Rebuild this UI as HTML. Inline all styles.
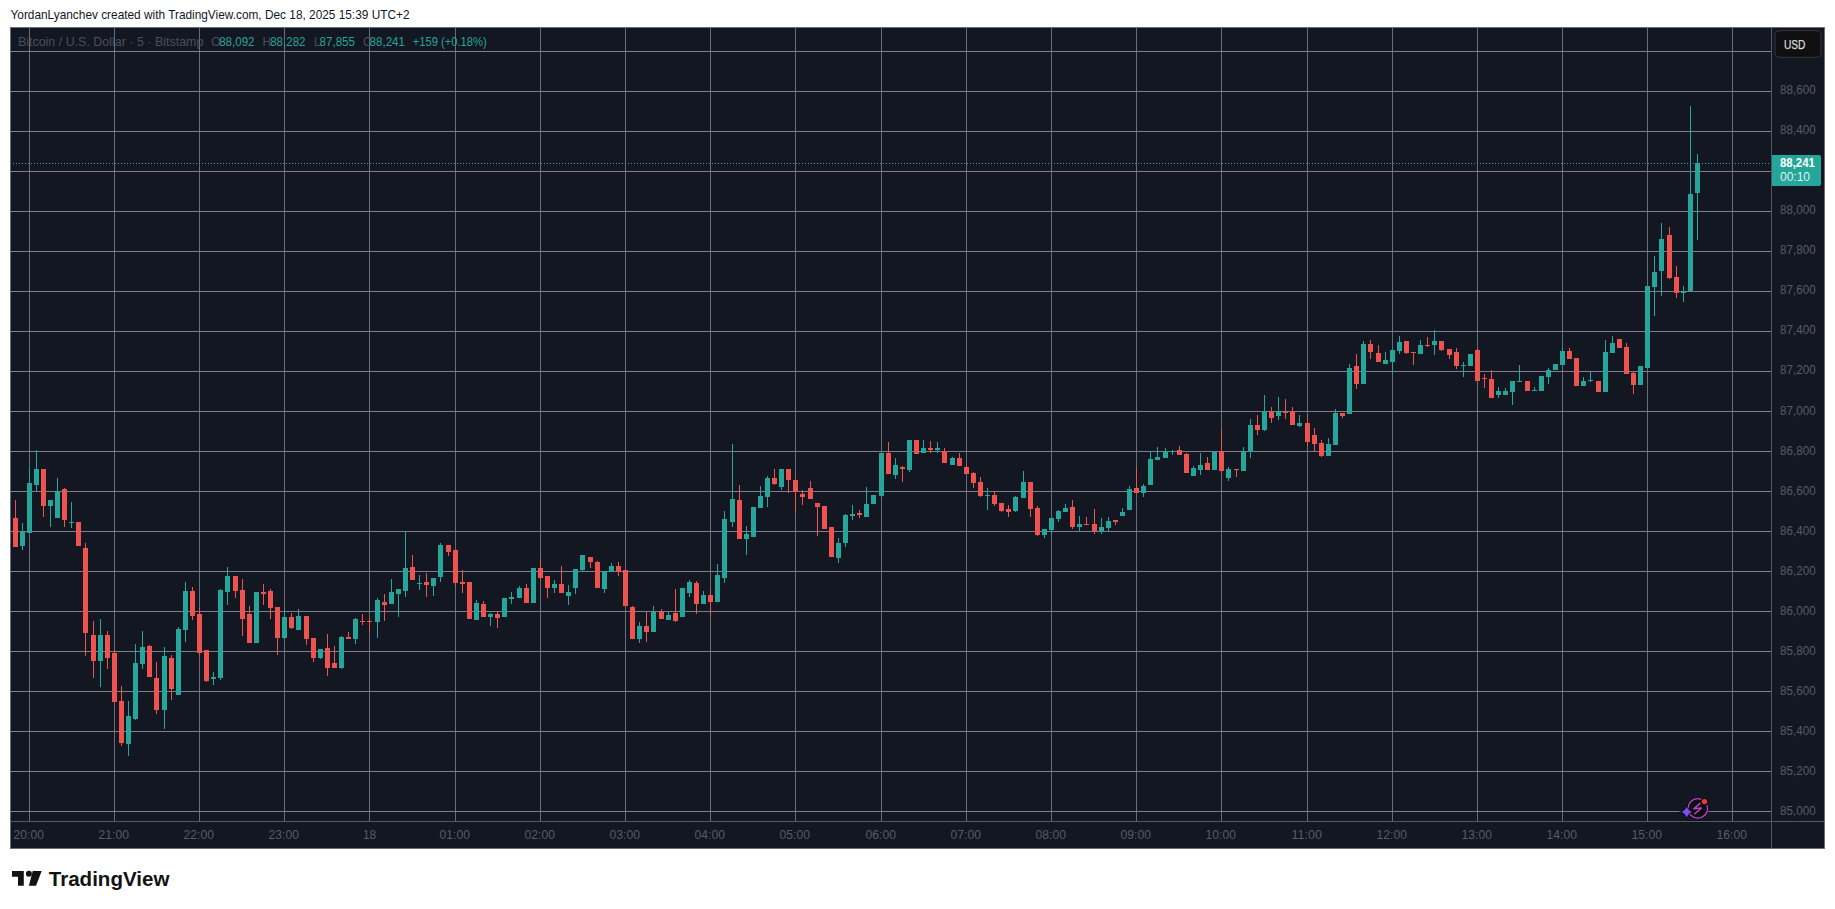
<!DOCTYPE html>
<html lang="en"><head><meta charset="utf-8"><title>BTCUSD chart</title>
<style>html,body{margin:0;padding:0;background:#fff}body{width:1835px;height:909px;overflow:hidden}svg{display:block}text{font-family:"Liberation Sans",sans-serif}</style></head><body>
<svg width="1835" height="909" viewBox="0 0 1835 909">
<rect width="1835" height="909" fill="#fff"/>
<text x="10.5" y="19.4" font-size="13" fill="#131722" textLength="399" lengthAdjust="spacingAndGlyphs">YordanLyanchev created with TradingView.com, Dec 18, 2025 15:39 UTC+2</text>
<rect x="10" y="27" width="1815" height="822" fill="#131722"/>
<rect x="10.5" y="27.5" width="1814" height="821" fill="none" stroke="#6a6d7a" stroke-width="1"/>
<g shape-rendering="crispEdges" fill="#7d808e">
<rect x="29" y="28" width="1" height="793" fill="#696c7b"/>
<rect x="114" y="28" width="1" height="793" fill="#696c7b"/>
<rect x="199" y="28" width="1" height="793" fill="#696c7b"/>
<rect x="284" y="28" width="1" height="793" fill="#696c7b"/>
<rect x="369" y="28" width="1" height="793" fill="#696c7b"/>
<rect x="455" y="28" width="1" height="793" fill="#696c7b"/>
<rect x="540" y="28" width="1" height="793" fill="#696c7b"/>
<rect x="625" y="28" width="1" height="793" fill="#696c7b"/>
<rect x="710" y="28" width="1" height="793" fill="#696c7b"/>
<rect x="795" y="28" width="1" height="793" fill="#696c7b"/>
<rect x="881" y="28" width="1" height="793" fill="#696c7b"/>
<rect x="966" y="28" width="1" height="793" fill="#696c7b"/>
<rect x="1051" y="28" width="1" height="793" fill="#696c7b"/>
<rect x="1136" y="28" width="1" height="793" fill="#696c7b"/>
<rect x="1221" y="28" width="1" height="793" fill="#696c7b"/>
<rect x="1307" y="28" width="1" height="793" fill="#696c7b"/>
<rect x="1392" y="28" width="1" height="793" fill="#696c7b"/>
<rect x="1477" y="28" width="1" height="793" fill="#696c7b"/>
<rect x="1562" y="28" width="1" height="793" fill="#696c7b"/>
<rect x="1647" y="28" width="1" height="793" fill="#696c7b"/>
<rect x="1732" y="28" width="1" height="793" fill="#696c7b"/>
<rect x="10" y="51" width="1761" height="1"/>
<rect x="10" y="91" width="1761" height="1"/>
<rect x="10" y="131" width="1761" height="1"/>
<rect x="10" y="171" width="1761" height="1"/>
<rect x="10" y="211" width="1761" height="1"/>
<rect x="10" y="251" width="1761" height="1"/>
<rect x="10" y="291" width="1761" height="1"/>
<rect x="10" y="331" width="1761" height="1"/>
<rect x="10" y="371" width="1761" height="1"/>
<rect x="10" y="411" width="1761" height="1"/>
<rect x="10" y="451" width="1761" height="1"/>
<rect x="10" y="491" width="1761" height="1"/>
<rect x="10" y="531" width="1761" height="1"/>
<rect x="10" y="571" width="1761" height="1"/>
<rect x="10" y="611" width="1761" height="1"/>
<rect x="10" y="651" width="1761" height="1"/>
<rect x="10" y="691" width="1761" height="1"/>
<rect x="10" y="731" width="1761" height="1"/>
<rect x="10" y="771" width="1761" height="1"/>
<rect x="10" y="811" width="1761" height="1"/>
<rect x="1771" y="28" width="1" height="820" fill="#535664"/>
<rect x="11" y="821" width="1813" height="1" fill="#535664"/>
</g>
<g font-size="12">
<text x="17.9" y="46" fill="#4b4e5b" textLength="185.5" lengthAdjust="spacingAndGlyphs">Bitcoin / U.S. Dollar · 5 · Bitstamp</text>
<text x="211.3" y="46" fill="#4b4e5b">O</text>
<text x="219.2" y="46" fill="#26a69a" textLength="35.3" lengthAdjust="spacingAndGlyphs">88,092</text>
<text x="262.6" y="46" fill="#4b4e5b">H</text>
<text x="270.2" y="46" fill="#26a69a" textLength="35.3" lengthAdjust="spacingAndGlyphs">88,282</text>
<text x="314" y="46" fill="#4b4e5b">L</text>
<text x="319.6" y="46" fill="#26a69a" textLength="35.3" lengthAdjust="spacingAndGlyphs">87,855</text>
<text x="363" y="46" fill="#4b4e5b">C</text>
<text x="369.6" y="46" fill="#26a69a" textLength="35.3" lengthAdjust="spacingAndGlyphs">88,241</text>
<text x="412.7" y="46" fill="#26a69a" textLength="74" lengthAdjust="spacingAndGlyphs">+159 (+0.18%)</text>
</g>
<g shape-rendering="crispEdges" fill="#26a69a">
<rect x="10" y="163" width="1" height="1"/>
<rect x="13" y="163" width="1" height="1"/>
<rect x="16" y="163" width="1" height="1"/>
<rect x="19" y="163" width="1" height="1"/>
<rect x="22" y="163" width="1" height="1"/>
<rect x="25" y="163" width="1" height="1"/>
<rect x="28" y="163" width="1" height="1"/>
<rect x="31" y="163" width="1" height="1"/>
<rect x="34" y="163" width="1" height="1"/>
<rect x="37" y="163" width="1" height="1"/>
<rect x="40" y="163" width="1" height="1"/>
<rect x="43" y="163" width="1" height="1"/>
<rect x="46" y="163" width="1" height="1"/>
<rect x="49" y="163" width="1" height="1"/>
<rect x="52" y="163" width="1" height="1"/>
<rect x="55" y="163" width="1" height="1"/>
<rect x="58" y="163" width="1" height="1"/>
<rect x="61" y="163" width="1" height="1"/>
<rect x="64" y="163" width="1" height="1"/>
<rect x="67" y="163" width="1" height="1"/>
<rect x="70" y="163" width="1" height="1"/>
<rect x="73" y="163" width="1" height="1"/>
<rect x="76" y="163" width="1" height="1"/>
<rect x="79" y="163" width="1" height="1"/>
<rect x="82" y="163" width="1" height="1"/>
<rect x="85" y="163" width="1" height="1"/>
<rect x="88" y="163" width="1" height="1"/>
<rect x="91" y="163" width="1" height="1"/>
<rect x="94" y="163" width="1" height="1"/>
<rect x="97" y="163" width="1" height="1"/>
<rect x="100" y="163" width="1" height="1"/>
<rect x="103" y="163" width="1" height="1"/>
<rect x="106" y="163" width="1" height="1"/>
<rect x="109" y="163" width="1" height="1"/>
<rect x="112" y="163" width="1" height="1"/>
<rect x="115" y="163" width="1" height="1"/>
<rect x="118" y="163" width="1" height="1"/>
<rect x="121" y="163" width="1" height="1"/>
<rect x="124" y="163" width="1" height="1"/>
<rect x="127" y="163" width="1" height="1"/>
<rect x="130" y="163" width="1" height="1"/>
<rect x="133" y="163" width="1" height="1"/>
<rect x="136" y="163" width="1" height="1"/>
<rect x="139" y="163" width="1" height="1"/>
<rect x="142" y="163" width="1" height="1"/>
<rect x="145" y="163" width="1" height="1"/>
<rect x="148" y="163" width="1" height="1"/>
<rect x="151" y="163" width="1" height="1"/>
<rect x="154" y="163" width="1" height="1"/>
<rect x="157" y="163" width="1" height="1"/>
<rect x="160" y="163" width="1" height="1"/>
<rect x="163" y="163" width="1" height="1"/>
<rect x="166" y="163" width="1" height="1"/>
<rect x="169" y="163" width="1" height="1"/>
<rect x="172" y="163" width="1" height="1"/>
<rect x="175" y="163" width="1" height="1"/>
<rect x="178" y="163" width="1" height="1"/>
<rect x="181" y="163" width="1" height="1"/>
<rect x="184" y="163" width="1" height="1"/>
<rect x="187" y="163" width="1" height="1"/>
<rect x="190" y="163" width="1" height="1"/>
<rect x="193" y="163" width="1" height="1"/>
<rect x="196" y="163" width="1" height="1"/>
<rect x="199" y="163" width="1" height="1"/>
<rect x="202" y="163" width="1" height="1"/>
<rect x="205" y="163" width="1" height="1"/>
<rect x="208" y="163" width="1" height="1"/>
<rect x="211" y="163" width="1" height="1"/>
<rect x="214" y="163" width="1" height="1"/>
<rect x="217" y="163" width="1" height="1"/>
<rect x="220" y="163" width="1" height="1"/>
<rect x="223" y="163" width="1" height="1"/>
<rect x="226" y="163" width="1" height="1"/>
<rect x="229" y="163" width="1" height="1"/>
<rect x="232" y="163" width="1" height="1"/>
<rect x="235" y="163" width="1" height="1"/>
<rect x="238" y="163" width="1" height="1"/>
<rect x="241" y="163" width="1" height="1"/>
<rect x="244" y="163" width="1" height="1"/>
<rect x="247" y="163" width="1" height="1"/>
<rect x="250" y="163" width="1" height="1"/>
<rect x="253" y="163" width="1" height="1"/>
<rect x="256" y="163" width="1" height="1"/>
<rect x="259" y="163" width="1" height="1"/>
<rect x="262" y="163" width="1" height="1"/>
<rect x="265" y="163" width="1" height="1"/>
<rect x="268" y="163" width="1" height="1"/>
<rect x="271" y="163" width="1" height="1"/>
<rect x="274" y="163" width="1" height="1"/>
<rect x="277" y="163" width="1" height="1"/>
<rect x="280" y="163" width="1" height="1"/>
<rect x="283" y="163" width="1" height="1"/>
<rect x="286" y="163" width="1" height="1"/>
<rect x="289" y="163" width="1" height="1"/>
<rect x="292" y="163" width="1" height="1"/>
<rect x="295" y="163" width="1" height="1"/>
<rect x="298" y="163" width="1" height="1"/>
<rect x="301" y="163" width="1" height="1"/>
<rect x="304" y="163" width="1" height="1"/>
<rect x="307" y="163" width="1" height="1"/>
<rect x="310" y="163" width="1" height="1"/>
<rect x="313" y="163" width="1" height="1"/>
<rect x="316" y="163" width="1" height="1"/>
<rect x="319" y="163" width="1" height="1"/>
<rect x="322" y="163" width="1" height="1"/>
<rect x="325" y="163" width="1" height="1"/>
<rect x="328" y="163" width="1" height="1"/>
<rect x="331" y="163" width="1" height="1"/>
<rect x="334" y="163" width="1" height="1"/>
<rect x="337" y="163" width="1" height="1"/>
<rect x="340" y="163" width="1" height="1"/>
<rect x="343" y="163" width="1" height="1"/>
<rect x="346" y="163" width="1" height="1"/>
<rect x="349" y="163" width="1" height="1"/>
<rect x="352" y="163" width="1" height="1"/>
<rect x="355" y="163" width="1" height="1"/>
<rect x="358" y="163" width="1" height="1"/>
<rect x="361" y="163" width="1" height="1"/>
<rect x="364" y="163" width="1" height="1"/>
<rect x="367" y="163" width="1" height="1"/>
<rect x="370" y="163" width="1" height="1"/>
<rect x="373" y="163" width="1" height="1"/>
<rect x="376" y="163" width="1" height="1"/>
<rect x="379" y="163" width="1" height="1"/>
<rect x="382" y="163" width="1" height="1"/>
<rect x="385" y="163" width="1" height="1"/>
<rect x="388" y="163" width="1" height="1"/>
<rect x="391" y="163" width="1" height="1"/>
<rect x="394" y="163" width="1" height="1"/>
<rect x="397" y="163" width="1" height="1"/>
<rect x="400" y="163" width="1" height="1"/>
<rect x="403" y="163" width="1" height="1"/>
<rect x="406" y="163" width="1" height="1"/>
<rect x="409" y="163" width="1" height="1"/>
<rect x="412" y="163" width="1" height="1"/>
<rect x="415" y="163" width="1" height="1"/>
<rect x="418" y="163" width="1" height="1"/>
<rect x="421" y="163" width="1" height="1"/>
<rect x="424" y="163" width="1" height="1"/>
<rect x="427" y="163" width="1" height="1"/>
<rect x="430" y="163" width="1" height="1"/>
<rect x="433" y="163" width="1" height="1"/>
<rect x="436" y="163" width="1" height="1"/>
<rect x="439" y="163" width="1" height="1"/>
<rect x="442" y="163" width="1" height="1"/>
<rect x="445" y="163" width="1" height="1"/>
<rect x="448" y="163" width="1" height="1"/>
<rect x="451" y="163" width="1" height="1"/>
<rect x="454" y="163" width="1" height="1"/>
<rect x="457" y="163" width="1" height="1"/>
<rect x="460" y="163" width="1" height="1"/>
<rect x="463" y="163" width="1" height="1"/>
<rect x="466" y="163" width="1" height="1"/>
<rect x="469" y="163" width="1" height="1"/>
<rect x="472" y="163" width="1" height="1"/>
<rect x="475" y="163" width="1" height="1"/>
<rect x="478" y="163" width="1" height="1"/>
<rect x="481" y="163" width="1" height="1"/>
<rect x="484" y="163" width="1" height="1"/>
<rect x="487" y="163" width="1" height="1"/>
<rect x="490" y="163" width="1" height="1"/>
<rect x="493" y="163" width="1" height="1"/>
<rect x="496" y="163" width="1" height="1"/>
<rect x="499" y="163" width="1" height="1"/>
<rect x="502" y="163" width="1" height="1"/>
<rect x="505" y="163" width="1" height="1"/>
<rect x="508" y="163" width="1" height="1"/>
<rect x="511" y="163" width="1" height="1"/>
<rect x="514" y="163" width="1" height="1"/>
<rect x="517" y="163" width="1" height="1"/>
<rect x="520" y="163" width="1" height="1"/>
<rect x="523" y="163" width="1" height="1"/>
<rect x="526" y="163" width="1" height="1"/>
<rect x="529" y="163" width="1" height="1"/>
<rect x="532" y="163" width="1" height="1"/>
<rect x="535" y="163" width="1" height="1"/>
<rect x="538" y="163" width="1" height="1"/>
<rect x="541" y="163" width="1" height="1"/>
<rect x="544" y="163" width="1" height="1"/>
<rect x="547" y="163" width="1" height="1"/>
<rect x="550" y="163" width="1" height="1"/>
<rect x="553" y="163" width="1" height="1"/>
<rect x="556" y="163" width="1" height="1"/>
<rect x="559" y="163" width="1" height="1"/>
<rect x="562" y="163" width="1" height="1"/>
<rect x="565" y="163" width="1" height="1"/>
<rect x="568" y="163" width="1" height="1"/>
<rect x="571" y="163" width="1" height="1"/>
<rect x="574" y="163" width="1" height="1"/>
<rect x="577" y="163" width="1" height="1"/>
<rect x="580" y="163" width="1" height="1"/>
<rect x="583" y="163" width="1" height="1"/>
<rect x="586" y="163" width="1" height="1"/>
<rect x="589" y="163" width="1" height="1"/>
<rect x="592" y="163" width="1" height="1"/>
<rect x="595" y="163" width="1" height="1"/>
<rect x="598" y="163" width="1" height="1"/>
<rect x="601" y="163" width="1" height="1"/>
<rect x="604" y="163" width="1" height="1"/>
<rect x="607" y="163" width="1" height="1"/>
<rect x="610" y="163" width="1" height="1"/>
<rect x="613" y="163" width="1" height="1"/>
<rect x="616" y="163" width="1" height="1"/>
<rect x="619" y="163" width="1" height="1"/>
<rect x="622" y="163" width="1" height="1"/>
<rect x="625" y="163" width="1" height="1"/>
<rect x="628" y="163" width="1" height="1"/>
<rect x="631" y="163" width="1" height="1"/>
<rect x="634" y="163" width="1" height="1"/>
<rect x="637" y="163" width="1" height="1"/>
<rect x="640" y="163" width="1" height="1"/>
<rect x="643" y="163" width="1" height="1"/>
<rect x="646" y="163" width="1" height="1"/>
<rect x="649" y="163" width="1" height="1"/>
<rect x="652" y="163" width="1" height="1"/>
<rect x="655" y="163" width="1" height="1"/>
<rect x="658" y="163" width="1" height="1"/>
<rect x="661" y="163" width="1" height="1"/>
<rect x="664" y="163" width="1" height="1"/>
<rect x="667" y="163" width="1" height="1"/>
<rect x="670" y="163" width="1" height="1"/>
<rect x="673" y="163" width="1" height="1"/>
<rect x="676" y="163" width="1" height="1"/>
<rect x="679" y="163" width="1" height="1"/>
<rect x="682" y="163" width="1" height="1"/>
<rect x="685" y="163" width="1" height="1"/>
<rect x="688" y="163" width="1" height="1"/>
<rect x="691" y="163" width="1" height="1"/>
<rect x="694" y="163" width="1" height="1"/>
<rect x="697" y="163" width="1" height="1"/>
<rect x="700" y="163" width="1" height="1"/>
<rect x="703" y="163" width="1" height="1"/>
<rect x="706" y="163" width="1" height="1"/>
<rect x="709" y="163" width="1" height="1"/>
<rect x="712" y="163" width="1" height="1"/>
<rect x="715" y="163" width="1" height="1"/>
<rect x="718" y="163" width="1" height="1"/>
<rect x="721" y="163" width="1" height="1"/>
<rect x="724" y="163" width="1" height="1"/>
<rect x="727" y="163" width="1" height="1"/>
<rect x="730" y="163" width="1" height="1"/>
<rect x="733" y="163" width="1" height="1"/>
<rect x="736" y="163" width="1" height="1"/>
<rect x="739" y="163" width="1" height="1"/>
<rect x="742" y="163" width="1" height="1"/>
<rect x="745" y="163" width="1" height="1"/>
<rect x="748" y="163" width="1" height="1"/>
<rect x="751" y="163" width="1" height="1"/>
<rect x="754" y="163" width="1" height="1"/>
<rect x="757" y="163" width="1" height="1"/>
<rect x="760" y="163" width="1" height="1"/>
<rect x="763" y="163" width="1" height="1"/>
<rect x="766" y="163" width="1" height="1"/>
<rect x="769" y="163" width="1" height="1"/>
<rect x="772" y="163" width="1" height="1"/>
<rect x="775" y="163" width="1" height="1"/>
<rect x="778" y="163" width="1" height="1"/>
<rect x="781" y="163" width="1" height="1"/>
<rect x="784" y="163" width="1" height="1"/>
<rect x="787" y="163" width="1" height="1"/>
<rect x="790" y="163" width="1" height="1"/>
<rect x="793" y="163" width="1" height="1"/>
<rect x="796" y="163" width="1" height="1"/>
<rect x="799" y="163" width="1" height="1"/>
<rect x="802" y="163" width="1" height="1"/>
<rect x="805" y="163" width="1" height="1"/>
<rect x="808" y="163" width="1" height="1"/>
<rect x="811" y="163" width="1" height="1"/>
<rect x="814" y="163" width="1" height="1"/>
<rect x="817" y="163" width="1" height="1"/>
<rect x="820" y="163" width="1" height="1"/>
<rect x="823" y="163" width="1" height="1"/>
<rect x="826" y="163" width="1" height="1"/>
<rect x="829" y="163" width="1" height="1"/>
<rect x="832" y="163" width="1" height="1"/>
<rect x="835" y="163" width="1" height="1"/>
<rect x="838" y="163" width="1" height="1"/>
<rect x="841" y="163" width="1" height="1"/>
<rect x="844" y="163" width="1" height="1"/>
<rect x="847" y="163" width="1" height="1"/>
<rect x="850" y="163" width="1" height="1"/>
<rect x="853" y="163" width="1" height="1"/>
<rect x="856" y="163" width="1" height="1"/>
<rect x="859" y="163" width="1" height="1"/>
<rect x="862" y="163" width="1" height="1"/>
<rect x="865" y="163" width="1" height="1"/>
<rect x="868" y="163" width="1" height="1"/>
<rect x="871" y="163" width="1" height="1"/>
<rect x="874" y="163" width="1" height="1"/>
<rect x="877" y="163" width="1" height="1"/>
<rect x="880" y="163" width="1" height="1"/>
<rect x="883" y="163" width="1" height="1"/>
<rect x="886" y="163" width="1" height="1"/>
<rect x="889" y="163" width="1" height="1"/>
<rect x="892" y="163" width="1" height="1"/>
<rect x="895" y="163" width="1" height="1"/>
<rect x="898" y="163" width="1" height="1"/>
<rect x="901" y="163" width="1" height="1"/>
<rect x="904" y="163" width="1" height="1"/>
<rect x="907" y="163" width="1" height="1"/>
<rect x="910" y="163" width="1" height="1"/>
<rect x="913" y="163" width="1" height="1"/>
<rect x="916" y="163" width="1" height="1"/>
<rect x="919" y="163" width="1" height="1"/>
<rect x="922" y="163" width="1" height="1"/>
<rect x="925" y="163" width="1" height="1"/>
<rect x="928" y="163" width="1" height="1"/>
<rect x="931" y="163" width="1" height="1"/>
<rect x="934" y="163" width="1" height="1"/>
<rect x="937" y="163" width="1" height="1"/>
<rect x="940" y="163" width="1" height="1"/>
<rect x="943" y="163" width="1" height="1"/>
<rect x="946" y="163" width="1" height="1"/>
<rect x="949" y="163" width="1" height="1"/>
<rect x="952" y="163" width="1" height="1"/>
<rect x="955" y="163" width="1" height="1"/>
<rect x="958" y="163" width="1" height="1"/>
<rect x="961" y="163" width="1" height="1"/>
<rect x="964" y="163" width="1" height="1"/>
<rect x="967" y="163" width="1" height="1"/>
<rect x="970" y="163" width="1" height="1"/>
<rect x="973" y="163" width="1" height="1"/>
<rect x="976" y="163" width="1" height="1"/>
<rect x="979" y="163" width="1" height="1"/>
<rect x="982" y="163" width="1" height="1"/>
<rect x="985" y="163" width="1" height="1"/>
<rect x="988" y="163" width="1" height="1"/>
<rect x="991" y="163" width="1" height="1"/>
<rect x="994" y="163" width="1" height="1"/>
<rect x="997" y="163" width="1" height="1"/>
<rect x="1000" y="163" width="1" height="1"/>
<rect x="1003" y="163" width="1" height="1"/>
<rect x="1006" y="163" width="1" height="1"/>
<rect x="1009" y="163" width="1" height="1"/>
<rect x="1012" y="163" width="1" height="1"/>
<rect x="1015" y="163" width="1" height="1"/>
<rect x="1018" y="163" width="1" height="1"/>
<rect x="1021" y="163" width="1" height="1"/>
<rect x="1024" y="163" width="1" height="1"/>
<rect x="1027" y="163" width="1" height="1"/>
<rect x="1030" y="163" width="1" height="1"/>
<rect x="1033" y="163" width="1" height="1"/>
<rect x="1036" y="163" width="1" height="1"/>
<rect x="1039" y="163" width="1" height="1"/>
<rect x="1042" y="163" width="1" height="1"/>
<rect x="1045" y="163" width="1" height="1"/>
<rect x="1048" y="163" width="1" height="1"/>
<rect x="1051" y="163" width="1" height="1"/>
<rect x="1054" y="163" width="1" height="1"/>
<rect x="1057" y="163" width="1" height="1"/>
<rect x="1060" y="163" width="1" height="1"/>
<rect x="1063" y="163" width="1" height="1"/>
<rect x="1066" y="163" width="1" height="1"/>
<rect x="1069" y="163" width="1" height="1"/>
<rect x="1072" y="163" width="1" height="1"/>
<rect x="1075" y="163" width="1" height="1"/>
<rect x="1078" y="163" width="1" height="1"/>
<rect x="1081" y="163" width="1" height="1"/>
<rect x="1084" y="163" width="1" height="1"/>
<rect x="1087" y="163" width="1" height="1"/>
<rect x="1090" y="163" width="1" height="1"/>
<rect x="1093" y="163" width="1" height="1"/>
<rect x="1096" y="163" width="1" height="1"/>
<rect x="1099" y="163" width="1" height="1"/>
<rect x="1102" y="163" width="1" height="1"/>
<rect x="1105" y="163" width="1" height="1"/>
<rect x="1108" y="163" width="1" height="1"/>
<rect x="1111" y="163" width="1" height="1"/>
<rect x="1114" y="163" width="1" height="1"/>
<rect x="1117" y="163" width="1" height="1"/>
<rect x="1120" y="163" width="1" height="1"/>
<rect x="1123" y="163" width="1" height="1"/>
<rect x="1126" y="163" width="1" height="1"/>
<rect x="1129" y="163" width="1" height="1"/>
<rect x="1132" y="163" width="1" height="1"/>
<rect x="1135" y="163" width="1" height="1"/>
<rect x="1138" y="163" width="1" height="1"/>
<rect x="1141" y="163" width="1" height="1"/>
<rect x="1144" y="163" width="1" height="1"/>
<rect x="1147" y="163" width="1" height="1"/>
<rect x="1150" y="163" width="1" height="1"/>
<rect x="1153" y="163" width="1" height="1"/>
<rect x="1156" y="163" width="1" height="1"/>
<rect x="1159" y="163" width="1" height="1"/>
<rect x="1162" y="163" width="1" height="1"/>
<rect x="1165" y="163" width="1" height="1"/>
<rect x="1168" y="163" width="1" height="1"/>
<rect x="1171" y="163" width="1" height="1"/>
<rect x="1174" y="163" width="1" height="1"/>
<rect x="1177" y="163" width="1" height="1"/>
<rect x="1180" y="163" width="1" height="1"/>
<rect x="1183" y="163" width="1" height="1"/>
<rect x="1186" y="163" width="1" height="1"/>
<rect x="1189" y="163" width="1" height="1"/>
<rect x="1192" y="163" width="1" height="1"/>
<rect x="1195" y="163" width="1" height="1"/>
<rect x="1198" y="163" width="1" height="1"/>
<rect x="1201" y="163" width="1" height="1"/>
<rect x="1204" y="163" width="1" height="1"/>
<rect x="1207" y="163" width="1" height="1"/>
<rect x="1210" y="163" width="1" height="1"/>
<rect x="1213" y="163" width="1" height="1"/>
<rect x="1216" y="163" width="1" height="1"/>
<rect x="1219" y="163" width="1" height="1"/>
<rect x="1222" y="163" width="1" height="1"/>
<rect x="1225" y="163" width="1" height="1"/>
<rect x="1228" y="163" width="1" height="1"/>
<rect x="1231" y="163" width="1" height="1"/>
<rect x="1234" y="163" width="1" height="1"/>
<rect x="1237" y="163" width="1" height="1"/>
<rect x="1240" y="163" width="1" height="1"/>
<rect x="1243" y="163" width="1" height="1"/>
<rect x="1246" y="163" width="1" height="1"/>
<rect x="1249" y="163" width="1" height="1"/>
<rect x="1252" y="163" width="1" height="1"/>
<rect x="1255" y="163" width="1" height="1"/>
<rect x="1258" y="163" width="1" height="1"/>
<rect x="1261" y="163" width="1" height="1"/>
<rect x="1264" y="163" width="1" height="1"/>
<rect x="1267" y="163" width="1" height="1"/>
<rect x="1270" y="163" width="1" height="1"/>
<rect x="1273" y="163" width="1" height="1"/>
<rect x="1276" y="163" width="1" height="1"/>
<rect x="1279" y="163" width="1" height="1"/>
<rect x="1282" y="163" width="1" height="1"/>
<rect x="1285" y="163" width="1" height="1"/>
<rect x="1288" y="163" width="1" height="1"/>
<rect x="1291" y="163" width="1" height="1"/>
<rect x="1294" y="163" width="1" height="1"/>
<rect x="1297" y="163" width="1" height="1"/>
<rect x="1300" y="163" width="1" height="1"/>
<rect x="1303" y="163" width="1" height="1"/>
<rect x="1306" y="163" width="1" height="1"/>
<rect x="1309" y="163" width="1" height="1"/>
<rect x="1312" y="163" width="1" height="1"/>
<rect x="1315" y="163" width="1" height="1"/>
<rect x="1318" y="163" width="1" height="1"/>
<rect x="1321" y="163" width="1" height="1"/>
<rect x="1324" y="163" width="1" height="1"/>
<rect x="1327" y="163" width="1" height="1"/>
<rect x="1330" y="163" width="1" height="1"/>
<rect x="1333" y="163" width="1" height="1"/>
<rect x="1336" y="163" width="1" height="1"/>
<rect x="1339" y="163" width="1" height="1"/>
<rect x="1342" y="163" width="1" height="1"/>
<rect x="1345" y="163" width="1" height="1"/>
<rect x="1348" y="163" width="1" height="1"/>
<rect x="1351" y="163" width="1" height="1"/>
<rect x="1354" y="163" width="1" height="1"/>
<rect x="1357" y="163" width="1" height="1"/>
<rect x="1360" y="163" width="1" height="1"/>
<rect x="1363" y="163" width="1" height="1"/>
<rect x="1366" y="163" width="1" height="1"/>
<rect x="1369" y="163" width="1" height="1"/>
<rect x="1372" y="163" width="1" height="1"/>
<rect x="1375" y="163" width="1" height="1"/>
<rect x="1378" y="163" width="1" height="1"/>
<rect x="1381" y="163" width="1" height="1"/>
<rect x="1384" y="163" width="1" height="1"/>
<rect x="1387" y="163" width="1" height="1"/>
<rect x="1390" y="163" width="1" height="1"/>
<rect x="1393" y="163" width="1" height="1"/>
<rect x="1396" y="163" width="1" height="1"/>
<rect x="1399" y="163" width="1" height="1"/>
<rect x="1402" y="163" width="1" height="1"/>
<rect x="1405" y="163" width="1" height="1"/>
<rect x="1408" y="163" width="1" height="1"/>
<rect x="1411" y="163" width="1" height="1"/>
<rect x="1414" y="163" width="1" height="1"/>
<rect x="1417" y="163" width="1" height="1"/>
<rect x="1420" y="163" width="1" height="1"/>
<rect x="1423" y="163" width="1" height="1"/>
<rect x="1426" y="163" width="1" height="1"/>
<rect x="1429" y="163" width="1" height="1"/>
<rect x="1432" y="163" width="1" height="1"/>
<rect x="1435" y="163" width="1" height="1"/>
<rect x="1438" y="163" width="1" height="1"/>
<rect x="1441" y="163" width="1" height="1"/>
<rect x="1444" y="163" width="1" height="1"/>
<rect x="1447" y="163" width="1" height="1"/>
<rect x="1450" y="163" width="1" height="1"/>
<rect x="1453" y="163" width="1" height="1"/>
<rect x="1456" y="163" width="1" height="1"/>
<rect x="1459" y="163" width="1" height="1"/>
<rect x="1462" y="163" width="1" height="1"/>
<rect x="1465" y="163" width="1" height="1"/>
<rect x="1468" y="163" width="1" height="1"/>
<rect x="1471" y="163" width="1" height="1"/>
<rect x="1474" y="163" width="1" height="1"/>
<rect x="1477" y="163" width="1" height="1"/>
<rect x="1480" y="163" width="1" height="1"/>
<rect x="1483" y="163" width="1" height="1"/>
<rect x="1486" y="163" width="1" height="1"/>
<rect x="1489" y="163" width="1" height="1"/>
<rect x="1492" y="163" width="1" height="1"/>
<rect x="1495" y="163" width="1" height="1"/>
<rect x="1498" y="163" width="1" height="1"/>
<rect x="1501" y="163" width="1" height="1"/>
<rect x="1504" y="163" width="1" height="1"/>
<rect x="1507" y="163" width="1" height="1"/>
<rect x="1510" y="163" width="1" height="1"/>
<rect x="1513" y="163" width="1" height="1"/>
<rect x="1516" y="163" width="1" height="1"/>
<rect x="1519" y="163" width="1" height="1"/>
<rect x="1522" y="163" width="1" height="1"/>
<rect x="1525" y="163" width="1" height="1"/>
<rect x="1528" y="163" width="1" height="1"/>
<rect x="1531" y="163" width="1" height="1"/>
<rect x="1534" y="163" width="1" height="1"/>
<rect x="1537" y="163" width="1" height="1"/>
<rect x="1540" y="163" width="1" height="1"/>
<rect x="1543" y="163" width="1" height="1"/>
<rect x="1546" y="163" width="1" height="1"/>
<rect x="1549" y="163" width="1" height="1"/>
<rect x="1552" y="163" width="1" height="1"/>
<rect x="1555" y="163" width="1" height="1"/>
<rect x="1558" y="163" width="1" height="1"/>
<rect x="1561" y="163" width="1" height="1"/>
<rect x="1564" y="163" width="1" height="1"/>
<rect x="1567" y="163" width="1" height="1"/>
<rect x="1570" y="163" width="1" height="1"/>
<rect x="1573" y="163" width="1" height="1"/>
<rect x="1576" y="163" width="1" height="1"/>
<rect x="1579" y="163" width="1" height="1"/>
<rect x="1582" y="163" width="1" height="1"/>
<rect x="1585" y="163" width="1" height="1"/>
<rect x="1588" y="163" width="1" height="1"/>
<rect x="1591" y="163" width="1" height="1"/>
<rect x="1594" y="163" width="1" height="1"/>
<rect x="1597" y="163" width="1" height="1"/>
<rect x="1600" y="163" width="1" height="1"/>
<rect x="1603" y="163" width="1" height="1"/>
<rect x="1606" y="163" width="1" height="1"/>
<rect x="1609" y="163" width="1" height="1"/>
<rect x="1612" y="163" width="1" height="1"/>
<rect x="1615" y="163" width="1" height="1"/>
<rect x="1618" y="163" width="1" height="1"/>
<rect x="1621" y="163" width="1" height="1"/>
<rect x="1624" y="163" width="1" height="1"/>
<rect x="1627" y="163" width="1" height="1"/>
<rect x="1630" y="163" width="1" height="1"/>
<rect x="1633" y="163" width="1" height="1"/>
<rect x="1636" y="163" width="1" height="1"/>
<rect x="1639" y="163" width="1" height="1"/>
<rect x="1642" y="163" width="1" height="1"/>
<rect x="1645" y="163" width="1" height="1"/>
<rect x="1648" y="163" width="1" height="1"/>
<rect x="1651" y="163" width="1" height="1"/>
<rect x="1654" y="163" width="1" height="1"/>
<rect x="1657" y="163" width="1" height="1"/>
<rect x="1660" y="163" width="1" height="1"/>
<rect x="1663" y="163" width="1" height="1"/>
<rect x="1666" y="163" width="1" height="1"/>
<rect x="1669" y="163" width="1" height="1"/>
<rect x="1672" y="163" width="1" height="1"/>
<rect x="1675" y="163" width="1" height="1"/>
<rect x="1678" y="163" width="1" height="1"/>
<rect x="1681" y="163" width="1" height="1"/>
<rect x="1684" y="163" width="1" height="1"/>
<rect x="1687" y="163" width="1" height="1"/>
<rect x="1690" y="163" width="1" height="1"/>
<rect x="1693" y="163" width="1" height="1"/>
<rect x="1696" y="163" width="1" height="1"/>
<rect x="1699" y="163" width="1" height="1"/>
<rect x="1702" y="163" width="1" height="1"/>
<rect x="1705" y="163" width="1" height="1"/>
<rect x="1708" y="163" width="1" height="1"/>
<rect x="1711" y="163" width="1" height="1"/>
<rect x="1714" y="163" width="1" height="1"/>
<rect x="1717" y="163" width="1" height="1"/>
<rect x="1720" y="163" width="1" height="1"/>
<rect x="1723" y="163" width="1" height="1"/>
<rect x="1726" y="163" width="1" height="1"/>
<rect x="1729" y="163" width="1" height="1"/>
<rect x="1732" y="163" width="1" height="1"/>
<rect x="1735" y="163" width="1" height="1"/>
<rect x="1738" y="163" width="1" height="1"/>
<rect x="1741" y="163" width="1" height="1"/>
<rect x="1744" y="163" width="1" height="1"/>
<rect x="1747" y="163" width="1" height="1"/>
<rect x="1750" y="163" width="1" height="1"/>
<rect x="1753" y="163" width="1" height="1"/>
<rect x="1756" y="163" width="1" height="1"/>
<rect x="1759" y="163" width="1" height="1"/>
<rect x="1762" y="163" width="1" height="1"/>
<rect x="1765" y="163" width="1" height="1"/>
<rect x="1768" y="163" width="1" height="1"/>
</g>
<g shape-rendering="crispEdges">
<rect x="15" y="500" width="1" height="47" fill="#ef5350"/><rect x="13" y="518" width="5" height="29" fill="#ef5350"/>
<rect x="22" y="523" width="1" height="27" fill="#26a69a"/><rect x="20" y="532" width="5" height="14" fill="#26a69a"/>
<rect x="29" y="467" width="1" height="66" fill="#26a69a"/><rect x="27" y="483" width="5" height="50" fill="#26a69a"/>
<rect x="36" y="450" width="1" height="41" fill="#26a69a"/><rect x="34" y="469" width="5" height="16" fill="#26a69a"/>
<rect x="43" y="469" width="1" height="48" fill="#ef5350"/><rect x="41" y="469" width="5" height="37" fill="#ef5350"/>
<rect x="50" y="500" width="1" height="27" fill="#26a69a"/><rect x="48" y="500" width="5" height="6" fill="#26a69a"/>
<rect x="57" y="478" width="1" height="40" fill="#26a69a"/><rect x="55" y="491" width="5" height="27" fill="#26a69a"/>
<rect x="64" y="488" width="1" height="39" fill="#ef5350"/><rect x="62" y="489" width="5" height="31" fill="#ef5350"/>
<rect x="71" y="502" width="1" height="26" fill="#26a69a"/><rect x="69" y="522" width="5" height="1" fill="#26a69a"/>
<rect x="78" y="522" width="1" height="24" fill="#ef5350"/><rect x="76" y="522" width="5" height="24" fill="#ef5350"/>
<rect x="85" y="543" width="1" height="113" fill="#ef5350"/><rect x="83" y="548" width="5" height="85" fill="#ef5350"/>
<rect x="93" y="621" width="1" height="57" fill="#ef5350"/><rect x="91" y="635" width="5" height="26" fill="#ef5350"/>
<rect x="100" y="619" width="1" height="68" fill="#26a69a"/><rect x="98" y="635" width="5" height="26" fill="#26a69a"/>
<rect x="107" y="631" width="1" height="38" fill="#ef5350"/><rect x="105" y="635" width="5" height="23" fill="#ef5350"/>
<rect x="114" y="650" width="1" height="52" fill="#ef5350"/><rect x="112" y="653" width="5" height="49" fill="#ef5350"/>
<rect x="121" y="686" width="1" height="60" fill="#ef5350"/><rect x="119" y="701" width="5" height="42" fill="#ef5350"/>
<rect x="128" y="701" width="1" height="55" fill="#26a69a"/><rect x="126" y="716" width="5" height="28" fill="#26a69a"/>
<rect x="135" y="644" width="1" height="76" fill="#26a69a"/><rect x="133" y="663" width="5" height="56" fill="#26a69a"/>
<rect x="142" y="631" width="1" height="38" fill="#26a69a"/><rect x="140" y="647" width="5" height="17" fill="#26a69a"/>
<rect x="149" y="645" width="1" height="32" fill="#ef5350"/><rect x="147" y="646" width="5" height="31" fill="#ef5350"/>
<rect x="156" y="662" width="1" height="52" fill="#ef5350"/><rect x="154" y="678" width="5" height="32" fill="#ef5350"/>
<rect x="164" y="647" width="1" height="82" fill="#26a69a"/><rect x="162" y="656" width="5" height="54" fill="#26a69a"/>
<rect x="171" y="655" width="1" height="45" fill="#ef5350"/><rect x="169" y="658" width="5" height="31" fill="#ef5350"/>
<rect x="178" y="627" width="1" height="68" fill="#26a69a"/><rect x="176" y="629" width="5" height="66" fill="#26a69a"/>
<rect x="185" y="582" width="1" height="60" fill="#26a69a"/><rect x="183" y="591" width="5" height="39" fill="#26a69a"/>
<rect x="192" y="587" width="1" height="33" fill="#ef5350"/><rect x="190" y="591" width="5" height="25" fill="#ef5350"/>
<rect x="199" y="608" width="1" height="47" fill="#ef5350"/><rect x="197" y="614" width="5" height="39" fill="#ef5350"/>
<rect x="206" y="650" width="1" height="32" fill="#ef5350"/><rect x="204" y="650" width="5" height="31" fill="#ef5350"/>
<rect x="213" y="672" width="1" height="13" fill="#26a69a"/><rect x="211" y="677" width="5" height="2" fill="#26a69a"/>
<rect x="220" y="589" width="1" height="91" fill="#26a69a"/><rect x="218" y="590" width="5" height="88" fill="#26a69a"/>
<rect x="227" y="567" width="1" height="38" fill="#26a69a"/><rect x="225" y="576" width="5" height="16" fill="#26a69a"/>
<rect x="235" y="576" width="1" height="22" fill="#ef5350"/><rect x="233" y="576" width="5" height="15" fill="#ef5350"/>
<rect x="242" y="579" width="1" height="57" fill="#ef5350"/><rect x="240" y="590" width="5" height="29" fill="#ef5350"/>
<rect x="249" y="606" width="1" height="37" fill="#ef5350"/><rect x="247" y="614" width="5" height="29" fill="#ef5350"/>
<rect x="256" y="592" width="1" height="51" fill="#26a69a"/><rect x="254" y="592" width="5" height="51" fill="#26a69a"/>
<rect x="263" y="584" width="1" height="21" fill="#ef5350"/><rect x="261" y="592" width="5" height="2" fill="#ef5350"/>
<rect x="270" y="589" width="1" height="30" fill="#ef5350"/><rect x="268" y="591" width="5" height="17" fill="#ef5350"/>
<rect x="277" y="607" width="1" height="48" fill="#ef5350"/><rect x="275" y="607" width="5" height="31" fill="#ef5350"/>
<rect x="284" y="609" width="1" height="30" fill="#26a69a"/><rect x="282" y="617" width="5" height="21" fill="#26a69a"/>
<rect x="291" y="613" width="1" height="16" fill="#ef5350"/><rect x="289" y="617" width="5" height="11" fill="#ef5350"/>
<rect x="298" y="609" width="1" height="21" fill="#26a69a"/><rect x="296" y="616" width="5" height="14" fill="#26a69a"/>
<rect x="306" y="616" width="1" height="29" fill="#ef5350"/><rect x="304" y="616" width="5" height="23" fill="#ef5350"/>
<rect x="313" y="638" width="1" height="24" fill="#ef5350"/><rect x="311" y="638" width="5" height="20" fill="#ef5350"/>
<rect x="320" y="649" width="1" height="10" fill="#26a69a"/><rect x="318" y="649" width="5" height="9" fill="#26a69a"/>
<rect x="327" y="634" width="1" height="42" fill="#ef5350"/><rect x="325" y="648" width="5" height="20" fill="#ef5350"/>
<rect x="334" y="646" width="1" height="22" fill="#ef5350"/><rect x="332" y="663" width="5" height="5" fill="#ef5350"/>
<rect x="341" y="636" width="1" height="33" fill="#26a69a"/><rect x="339" y="637" width="5" height="31" fill="#26a69a"/>
<rect x="348" y="632" width="1" height="7" fill="#ef5350"/><rect x="346" y="637" width="5" height="2" fill="#ef5350"/>
<rect x="355" y="618" width="1" height="26" fill="#26a69a"/><rect x="353" y="619" width="5" height="20" fill="#26a69a"/>
<rect x="362" y="614" width="1" height="11" fill="#ef5350"/><rect x="360" y="621" width="5" height="1" fill="#ef5350"/>
<rect x="369" y="618" width="1" height="13" fill="#ef5350"/><rect x="367" y="621" width="5" height="1" fill="#ef5350"/>
<rect x="377" y="598" width="1" height="40" fill="#26a69a"/><rect x="375" y="600" width="5" height="22" fill="#26a69a"/>
<rect x="384" y="594" width="1" height="27" fill="#ef5350"/><rect x="382" y="602" width="5" height="3" fill="#ef5350"/>
<rect x="391" y="579" width="1" height="25" fill="#26a69a"/><rect x="389" y="592" width="5" height="12" fill="#26a69a"/>
<rect x="398" y="589" width="1" height="28" fill="#26a69a"/><rect x="396" y="589" width="5" height="5" fill="#26a69a"/>
<rect x="405" y="531" width="1" height="66" fill="#26a69a"/><rect x="403" y="568" width="5" height="23" fill="#26a69a"/>
<rect x="412" y="555" width="1" height="25" fill="#ef5350"/><rect x="410" y="567" width="5" height="13" fill="#ef5350"/>
<rect x="419" y="575" width="1" height="15" fill="#26a69a"/><rect x="417" y="583" width="5" height="1" fill="#26a69a"/>
<rect x="426" y="573" width="1" height="24" fill="#ef5350"/><rect x="424" y="582" width="5" height="3" fill="#ef5350"/>
<rect x="433" y="578" width="1" height="18" fill="#26a69a"/><rect x="431" y="578" width="5" height="8" fill="#26a69a"/>
<rect x="440" y="543" width="1" height="39" fill="#26a69a"/><rect x="438" y="545" width="5" height="32" fill="#26a69a"/>
<rect x="448" y="545" width="1" height="11" fill="#ef5350"/><rect x="446" y="545" width="5" height="7" fill="#ef5350"/>
<rect x="455" y="550" width="1" height="36" fill="#ef5350"/><rect x="453" y="550" width="5" height="33" fill="#ef5350"/>
<rect x="462" y="570" width="1" height="23" fill="#ef5350"/><rect x="460" y="582" width="5" height="2" fill="#ef5350"/>
<rect x="469" y="582" width="1" height="37" fill="#ef5350"/><rect x="467" y="582" width="5" height="37" fill="#ef5350"/>
<rect x="476" y="600" width="1" height="20" fill="#26a69a"/><rect x="474" y="603" width="5" height="17" fill="#26a69a"/>
<rect x="483" y="601" width="1" height="16" fill="#ef5350"/><rect x="481" y="604" width="5" height="13" fill="#ef5350"/>
<rect x="490" y="613" width="1" height="13" fill="#26a69a"/><rect x="488" y="614" width="5" height="3" fill="#26a69a"/>
<rect x="497" y="612" width="1" height="16" fill="#ef5350"/><rect x="495" y="614" width="5" height="4" fill="#ef5350"/>
<rect x="504" y="598" width="1" height="19" fill="#26a69a"/><rect x="502" y="598" width="5" height="19" fill="#26a69a"/>
<rect x="511" y="592" width="1" height="12" fill="#26a69a"/><rect x="509" y="597" width="5" height="2" fill="#26a69a"/>
<rect x="519" y="586" width="1" height="12" fill="#26a69a"/><rect x="517" y="588" width="5" height="10" fill="#26a69a"/>
<rect x="526" y="584" width="1" height="19" fill="#ef5350"/><rect x="524" y="588" width="5" height="15" fill="#ef5350"/>
<rect x="533" y="568" width="1" height="35" fill="#26a69a"/><rect x="531" y="568" width="5" height="35" fill="#26a69a"/>
<rect x="540" y="559" width="1" height="21" fill="#ef5350"/><rect x="538" y="568" width="5" height="10" fill="#ef5350"/>
<rect x="547" y="576" width="1" height="22" fill="#ef5350"/><rect x="545" y="576" width="5" height="12" fill="#ef5350"/>
<rect x="554" y="580" width="1" height="13" fill="#26a69a"/><rect x="552" y="584" width="5" height="4" fill="#26a69a"/>
<rect x="561" y="566" width="1" height="27" fill="#ef5350"/><rect x="559" y="584" width="5" height="9" fill="#ef5350"/>
<rect x="568" y="585" width="1" height="20" fill="#26a69a"/><rect x="566" y="592" width="5" height="4" fill="#26a69a"/>
<rect x="575" y="569" width="1" height="25" fill="#26a69a"/><rect x="573" y="569" width="5" height="19" fill="#26a69a"/>
<rect x="582" y="555" width="1" height="17" fill="#26a69a"/><rect x="580" y="555" width="5" height="15" fill="#26a69a"/>
<rect x="590" y="557" width="1" height="11" fill="#ef5350"/><rect x="588" y="557" width="5" height="5" fill="#ef5350"/>
<rect x="597" y="561" width="1" height="27" fill="#ef5350"/><rect x="595" y="562" width="5" height="26" fill="#ef5350"/>
<rect x="604" y="571" width="1" height="22" fill="#26a69a"/><rect x="602" y="571" width="5" height="18" fill="#26a69a"/>
<rect x="611" y="563" width="1" height="9" fill="#26a69a"/><rect x="609" y="566" width="5" height="6" fill="#26a69a"/>
<rect x="618" y="562" width="1" height="14" fill="#ef5350"/><rect x="616" y="566" width="5" height="6" fill="#ef5350"/>
<rect x="625" y="570" width="1" height="36" fill="#ef5350"/><rect x="623" y="570" width="5" height="36" fill="#ef5350"/>
<rect x="632" y="606" width="1" height="33" fill="#ef5350"/><rect x="630" y="607" width="5" height="32" fill="#ef5350"/>
<rect x="639" y="622" width="1" height="21" fill="#26a69a"/><rect x="637" y="626" width="5" height="13" fill="#26a69a"/>
<rect x="646" y="612" width="1" height="30" fill="#ef5350"/><rect x="644" y="626" width="5" height="6" fill="#ef5350"/>
<rect x="653" y="606" width="1" height="26" fill="#26a69a"/><rect x="651" y="612" width="5" height="20" fill="#26a69a"/>
<rect x="661" y="609" width="1" height="10" fill="#ef5350"/><rect x="659" y="612" width="5" height="7" fill="#ef5350"/>
<rect x="668" y="612" width="1" height="8" fill="#26a69a"/><rect x="666" y="615" width="5" height="5" fill="#26a69a"/>
<rect x="675" y="589" width="1" height="33" fill="#ef5350"/><rect x="673" y="613" width="5" height="8" fill="#ef5350"/>
<rect x="682" y="588" width="1" height="29" fill="#26a69a"/><rect x="680" y="588" width="5" height="29" fill="#26a69a"/>
<rect x="689" y="580" width="1" height="17" fill="#26a69a"/><rect x="687" y="582" width="5" height="11" fill="#26a69a"/>
<rect x="696" y="581" width="1" height="33" fill="#ef5350"/><rect x="694" y="583" width="5" height="21" fill="#ef5350"/>
<rect x="703" y="591" width="1" height="13" fill="#26a69a"/><rect x="701" y="595" width="5" height="9" fill="#26a69a"/>
<rect x="710" y="590" width="1" height="26" fill="#ef5350"/><rect x="708" y="595" width="5" height="7" fill="#ef5350"/>
<rect x="717" y="564" width="1" height="38" fill="#26a69a"/><rect x="715" y="575" width="5" height="27" fill="#26a69a"/>
<rect x="724" y="511" width="1" height="72" fill="#26a69a"/><rect x="722" y="519" width="5" height="59" fill="#26a69a"/>
<rect x="732" y="444" width="1" height="83" fill="#26a69a"/><rect x="730" y="499" width="5" height="23" fill="#26a69a"/>
<rect x="739" y="485" width="1" height="54" fill="#ef5350"/><rect x="737" y="500" width="5" height="39" fill="#ef5350"/>
<rect x="746" y="526" width="1" height="29" fill="#26a69a"/><rect x="744" y="534" width="5" height="5" fill="#26a69a"/>
<rect x="753" y="507" width="1" height="30" fill="#26a69a"/><rect x="751" y="507" width="5" height="30" fill="#26a69a"/>
<rect x="760" y="486" width="1" height="22" fill="#26a69a"/><rect x="758" y="496" width="5" height="12" fill="#26a69a"/>
<rect x="767" y="476" width="1" height="31" fill="#26a69a"/><rect x="765" y="478" width="5" height="19" fill="#26a69a"/>
<rect x="774" y="469" width="1" height="16" fill="#ef5350"/><rect x="772" y="478" width="5" height="6" fill="#ef5350"/>
<rect x="781" y="469" width="1" height="21" fill="#26a69a"/><rect x="779" y="469" width="5" height="18" fill="#26a69a"/>
<rect x="788" y="469" width="1" height="24" fill="#ef5350"/><rect x="786" y="469" width="5" height="11" fill="#ef5350"/>
<rect x="795" y="479" width="1" height="34" fill="#ef5350"/><rect x="793" y="480" width="5" height="12" fill="#ef5350"/>
<rect x="802" y="490" width="1" height="15" fill="#ef5350"/><rect x="800" y="494" width="5" height="3" fill="#ef5350"/>
<rect x="810" y="481" width="1" height="18" fill="#ef5350"/><rect x="808" y="488" width="5" height="11" fill="#ef5350"/>
<rect x="817" y="503" width="1" height="33" fill="#ef5350"/><rect x="815" y="503" width="5" height="4" fill="#ef5350"/>
<rect x="824" y="506" width="1" height="23" fill="#ef5350"/><rect x="822" y="506" width="5" height="23" fill="#ef5350"/>
<rect x="831" y="527" width="1" height="30" fill="#ef5350"/><rect x="829" y="527" width="5" height="30" fill="#ef5350"/>
<rect x="838" y="538" width="1" height="25" fill="#26a69a"/><rect x="836" y="543" width="5" height="15" fill="#26a69a"/>
<rect x="845" y="514" width="1" height="33" fill="#26a69a"/><rect x="843" y="515" width="5" height="28" fill="#26a69a"/>
<rect x="852" y="505" width="1" height="15" fill="#26a69a"/><rect x="850" y="514" width="5" height="2" fill="#26a69a"/>
<rect x="859" y="510" width="1" height="8" fill="#ef5350"/><rect x="857" y="513" width="5" height="2" fill="#ef5350"/>
<rect x="866" y="487" width="1" height="30" fill="#26a69a"/><rect x="864" y="504" width="5" height="13" fill="#26a69a"/>
<rect x="873" y="495" width="1" height="9" fill="#26a69a"/><rect x="871" y="495" width="5" height="9" fill="#26a69a"/>
<rect x="881" y="453" width="1" height="44" fill="#26a69a"/><rect x="879" y="453" width="5" height="43" fill="#26a69a"/>
<rect x="888" y="442" width="1" height="32" fill="#ef5350"/><rect x="886" y="453" width="5" height="21" fill="#ef5350"/>
<rect x="895" y="458" width="1" height="21" fill="#26a69a"/><rect x="893" y="465" width="5" height="10" fill="#26a69a"/>
<rect x="902" y="466" width="1" height="16" fill="#ef5350"/><rect x="900" y="467" width="5" height="2" fill="#ef5350"/>
<rect x="909" y="440" width="1" height="32" fill="#26a69a"/><rect x="907" y="440" width="5" height="30" fill="#26a69a"/>
<rect x="916" y="440" width="1" height="14" fill="#ef5350"/><rect x="914" y="440" width="5" height="14" fill="#ef5350"/>
<rect x="923" y="440" width="1" height="13" fill="#26a69a"/><rect x="921" y="448" width="5" height="5" fill="#26a69a"/>
<rect x="930" y="441" width="1" height="12" fill="#ef5350"/><rect x="928" y="448" width="5" height="2" fill="#ef5350"/>
<rect x="937" y="442" width="1" height="11" fill="#26a69a"/><rect x="935" y="448" width="5" height="2" fill="#26a69a"/>
<rect x="944" y="448" width="1" height="15" fill="#ef5350"/><rect x="942" y="451" width="5" height="12" fill="#ef5350"/>
<rect x="952" y="457" width="1" height="8" fill="#26a69a"/><rect x="950" y="458" width="5" height="7" fill="#26a69a"/>
<rect x="959" y="453" width="1" height="13" fill="#ef5350"/><rect x="957" y="458" width="5" height="8" fill="#ef5350"/>
<rect x="966" y="465" width="1" height="9" fill="#ef5350"/><rect x="964" y="467" width="5" height="7" fill="#ef5350"/>
<rect x="973" y="472" width="1" height="16" fill="#ef5350"/><rect x="971" y="473" width="5" height="10" fill="#ef5350"/>
<rect x="980" y="477" width="1" height="20" fill="#ef5350"/><rect x="978" y="482" width="5" height="14" fill="#ef5350"/>
<rect x="987" y="488" width="1" height="22" fill="#26a69a"/><rect x="985" y="495" width="5" height="1" fill="#26a69a"/>
<rect x="994" y="491" width="1" height="15" fill="#ef5350"/><rect x="992" y="495" width="5" height="9" fill="#ef5350"/>
<rect x="1001" y="503" width="1" height="9" fill="#ef5350"/><rect x="999" y="503" width="5" height="8" fill="#ef5350"/>
<rect x="1008" y="505" width="1" height="12" fill="#ef5350"/><rect x="1006" y="509" width="5" height="3" fill="#ef5350"/>
<rect x="1015" y="496" width="1" height="16" fill="#26a69a"/><rect x="1013" y="497" width="5" height="14" fill="#26a69a"/>
<rect x="1023" y="471" width="1" height="27" fill="#26a69a"/><rect x="1021" y="482" width="5" height="16" fill="#26a69a"/>
<rect x="1030" y="482" width="1" height="35" fill="#ef5350"/><rect x="1028" y="482" width="5" height="27" fill="#ef5350"/>
<rect x="1037" y="506" width="1" height="30" fill="#ef5350"/><rect x="1035" y="508" width="5" height="27" fill="#ef5350"/>
<rect x="1044" y="529" width="1" height="9" fill="#26a69a"/><rect x="1042" y="529" width="5" height="6" fill="#26a69a"/>
<rect x="1051" y="518" width="1" height="17" fill="#26a69a"/><rect x="1049" y="518" width="5" height="12" fill="#26a69a"/>
<rect x="1058" y="510" width="1" height="12" fill="#26a69a"/><rect x="1056" y="511" width="5" height="8" fill="#26a69a"/>
<rect x="1065" y="504" width="1" height="8" fill="#26a69a"/><rect x="1063" y="508" width="5" height="4" fill="#26a69a"/>
<rect x="1072" y="500" width="1" height="29" fill="#ef5350"/><rect x="1070" y="507" width="5" height="20" fill="#ef5350"/>
<rect x="1079" y="516" width="1" height="16" fill="#26a69a"/><rect x="1077" y="524" width="5" height="3" fill="#26a69a"/>
<rect x="1086" y="517" width="1" height="8" fill="#ef5350"/><rect x="1084" y="524" width="5" height="1" fill="#ef5350"/>
<rect x="1094" y="509" width="1" height="25" fill="#ef5350"/><rect x="1092" y="524" width="5" height="7" fill="#ef5350"/>
<rect x="1101" y="518" width="1" height="16" fill="#26a69a"/><rect x="1099" y="527" width="5" height="4" fill="#26a69a"/>
<rect x="1108" y="517" width="1" height="14" fill="#26a69a"/><rect x="1106" y="521" width="5" height="7" fill="#26a69a"/>
<rect x="1115" y="520" width="1" height="5" fill="#ef5350"/><rect x="1113" y="520" width="5" height="2" fill="#ef5350"/>
<rect x="1122" y="508" width="1" height="8" fill="#26a69a"/><rect x="1120" y="512" width="5" height="4" fill="#26a69a"/>
<rect x="1129" y="486" width="1" height="24" fill="#26a69a"/><rect x="1127" y="489" width="5" height="21" fill="#26a69a"/>
<rect x="1136" y="467" width="1" height="26" fill="#ef5350"/><rect x="1134" y="488" width="5" height="5" fill="#ef5350"/>
<rect x="1143" y="484" width="1" height="13" fill="#26a69a"/><rect x="1141" y="486" width="5" height="7" fill="#26a69a"/>
<rect x="1150" y="451" width="1" height="34" fill="#26a69a"/><rect x="1148" y="459" width="5" height="26" fill="#26a69a"/>
<rect x="1157" y="447" width="1" height="13" fill="#26a69a"/><rect x="1155" y="457" width="5" height="3" fill="#26a69a"/>
<rect x="1165" y="448" width="1" height="10" fill="#26a69a"/><rect x="1163" y="451" width="5" height="7" fill="#26a69a"/>
<rect x="1172" y="450" width="1" height="5" fill="#26a69a"/><rect x="1170" y="451" width="5" height="1" fill="#26a69a"/>
<rect x="1179" y="446" width="1" height="9" fill="#ef5350"/><rect x="1177" y="450" width="5" height="5" fill="#ef5350"/>
<rect x="1186" y="453" width="1" height="20" fill="#ef5350"/><rect x="1184" y="454" width="5" height="19" fill="#ef5350"/>
<rect x="1193" y="466" width="1" height="10" fill="#26a69a"/><rect x="1191" y="468" width="5" height="8" fill="#26a69a"/>
<rect x="1200" y="453" width="1" height="22" fill="#26a69a"/><rect x="1198" y="465" width="5" height="5" fill="#26a69a"/>
<rect x="1207" y="457" width="1" height="13" fill="#ef5350"/><rect x="1205" y="463" width="5" height="7" fill="#ef5350"/>
<rect x="1214" y="451" width="1" height="19" fill="#26a69a"/><rect x="1212" y="451" width="5" height="19" fill="#26a69a"/>
<rect x="1221" y="429" width="1" height="44" fill="#ef5350"/><rect x="1219" y="451" width="5" height="20" fill="#ef5350"/>
<rect x="1228" y="467" width="1" height="14" fill="#26a69a"/><rect x="1226" y="469" width="5" height="9" fill="#26a69a"/>
<rect x="1236" y="469" width="1" height="8" fill="#ef5350"/><rect x="1234" y="469" width="5" height="1" fill="#ef5350"/>
<rect x="1243" y="447" width="1" height="24" fill="#26a69a"/><rect x="1241" y="451" width="5" height="20" fill="#26a69a"/>
<rect x="1250" y="419" width="1" height="39" fill="#26a69a"/><rect x="1248" y="425" width="5" height="27" fill="#26a69a"/>
<rect x="1257" y="415" width="1" height="20" fill="#ef5350"/><rect x="1255" y="425" width="5" height="5" fill="#ef5350"/>
<rect x="1264" y="395" width="1" height="36" fill="#26a69a"/><rect x="1262" y="411" width="5" height="19" fill="#26a69a"/>
<rect x="1271" y="407" width="1" height="16" fill="#ef5350"/><rect x="1269" y="412" width="5" height="6" fill="#ef5350"/>
<rect x="1278" y="397" width="1" height="23" fill="#26a69a"/><rect x="1276" y="412" width="5" height="4" fill="#26a69a"/>
<rect x="1285" y="399" width="1" height="20" fill="#ef5350"/><rect x="1283" y="412" width="5" height="1" fill="#ef5350"/>
<rect x="1292" y="407" width="1" height="18" fill="#ef5350"/><rect x="1290" y="411" width="5" height="14" fill="#ef5350"/>
<rect x="1299" y="415" width="1" height="12" fill="#26a69a"/><rect x="1297" y="423" width="5" height="3" fill="#26a69a"/>
<rect x="1307" y="414" width="1" height="32" fill="#ef5350"/><rect x="1305" y="423" width="5" height="19" fill="#ef5350"/>
<rect x="1314" y="428" width="1" height="23" fill="#ef5350"/><rect x="1312" y="435" width="5" height="9" fill="#ef5350"/>
<rect x="1321" y="440" width="1" height="17" fill="#ef5350"/><rect x="1319" y="443" width="5" height="13" fill="#ef5350"/>
<rect x="1328" y="438" width="1" height="18" fill="#26a69a"/><rect x="1326" y="444" width="5" height="12" fill="#26a69a"/>
<rect x="1335" y="409" width="1" height="36" fill="#26a69a"/><rect x="1333" y="413" width="5" height="32" fill="#26a69a"/>
<rect x="1342" y="413" width="1" height="5" fill="#ef5350"/><rect x="1340" y="413" width="5" height="3" fill="#ef5350"/>
<rect x="1349" y="364" width="1" height="50" fill="#26a69a"/><rect x="1347" y="368" width="5" height="46" fill="#26a69a"/>
<rect x="1356" y="354" width="1" height="35" fill="#ef5350"/><rect x="1354" y="366" width="5" height="18" fill="#ef5350"/>
<rect x="1363" y="341" width="1" height="43" fill="#26a69a"/><rect x="1361" y="344" width="5" height="40" fill="#26a69a"/>
<rect x="1370" y="340" width="1" height="19" fill="#ef5350"/><rect x="1368" y="344" width="5" height="8" fill="#ef5350"/>
<rect x="1378" y="345" width="1" height="17" fill="#ef5350"/><rect x="1376" y="353" width="5" height="9" fill="#ef5350"/>
<rect x="1385" y="352" width="1" height="12" fill="#26a69a"/><rect x="1383" y="360" width="5" height="4" fill="#26a69a"/>
<rect x="1392" y="350" width="1" height="24" fill="#26a69a"/><rect x="1390" y="350" width="5" height="12" fill="#26a69a"/>
<rect x="1399" y="336" width="1" height="18" fill="#26a69a"/><rect x="1397" y="342" width="5" height="9" fill="#26a69a"/>
<rect x="1406" y="341" width="1" height="13" fill="#ef5350"/><rect x="1404" y="341" width="5" height="12" fill="#ef5350"/>
<rect x="1413" y="352" width="1" height="13" fill="#ef5350"/><rect x="1411" y="352" width="5" height="1" fill="#ef5350"/>
<rect x="1420" y="340" width="1" height="14" fill="#26a69a"/><rect x="1418" y="345" width="5" height="9" fill="#26a69a"/>
<rect x="1427" y="337" width="1" height="10" fill="#ef5350"/><rect x="1425" y="345" width="5" height="1" fill="#ef5350"/>
<rect x="1434" y="330" width="1" height="25" fill="#26a69a"/><rect x="1432" y="341" width="5" height="4" fill="#26a69a"/>
<rect x="1441" y="341" width="1" height="10" fill="#ef5350"/><rect x="1439" y="341" width="5" height="9" fill="#ef5350"/>
<rect x="1449" y="349" width="1" height="10" fill="#ef5350"/><rect x="1447" y="349" width="5" height="6" fill="#ef5350"/>
<rect x="1456" y="348" width="1" height="21" fill="#ef5350"/><rect x="1454" y="352" width="5" height="14" fill="#ef5350"/>
<rect x="1463" y="362" width="1" height="15" fill="#26a69a"/><rect x="1461" y="365" width="5" height="1" fill="#26a69a"/>
<rect x="1470" y="354" width="1" height="12" fill="#26a69a"/><rect x="1468" y="354" width="5" height="12" fill="#26a69a"/>
<rect x="1477" y="348" width="1" height="33" fill="#ef5350"/><rect x="1475" y="350" width="5" height="31" fill="#ef5350"/>
<rect x="1484" y="374" width="1" height="14" fill="#ef5350"/><rect x="1482" y="378" width="5" height="1" fill="#ef5350"/>
<rect x="1491" y="370" width="1" height="28" fill="#ef5350"/><rect x="1489" y="379" width="5" height="19" fill="#ef5350"/>
<rect x="1498" y="387" width="1" height="11" fill="#26a69a"/><rect x="1496" y="391" width="5" height="4" fill="#26a69a"/>
<rect x="1505" y="388" width="1" height="7" fill="#26a69a"/><rect x="1503" y="391" width="5" height="4" fill="#26a69a"/>
<rect x="1512" y="381" width="1" height="24" fill="#26a69a"/><rect x="1510" y="381" width="5" height="11" fill="#26a69a"/>
<rect x="1519" y="365" width="1" height="17" fill="#26a69a"/><rect x="1517" y="381" width="5" height="1" fill="#26a69a"/>
<rect x="1527" y="381" width="1" height="10" fill="#ef5350"/><rect x="1525" y="381" width="5" height="10" fill="#ef5350"/>
<rect x="1534" y="387" width="1" height="4" fill="#26a69a"/><rect x="1532" y="390" width="5" height="1" fill="#26a69a"/>
<rect x="1541" y="376" width="1" height="15" fill="#26a69a"/><rect x="1539" y="376" width="5" height="15" fill="#26a69a"/>
<rect x="1548" y="368" width="1" height="16" fill="#26a69a"/><rect x="1546" y="370" width="5" height="7" fill="#26a69a"/>
<rect x="1555" y="364" width="1" height="6" fill="#26a69a"/><rect x="1553" y="364" width="5" height="6" fill="#26a69a"/>
<rect x="1562" y="348" width="1" height="17" fill="#26a69a"/><rect x="1560" y="351" width="5" height="14" fill="#26a69a"/>
<rect x="1569" y="348" width="1" height="11" fill="#ef5350"/><rect x="1567" y="351" width="5" height="8" fill="#ef5350"/>
<rect x="1576" y="358" width="1" height="28" fill="#ef5350"/><rect x="1574" y="358" width="5" height="28" fill="#ef5350"/>
<rect x="1583" y="377" width="1" height="9" fill="#26a69a"/><rect x="1581" y="381" width="5" height="5" fill="#26a69a"/>
<rect x="1590" y="372" width="1" height="10" fill="#26a69a"/><rect x="1588" y="380" width="5" height="1" fill="#26a69a"/>
<rect x="1598" y="381" width="1" height="11" fill="#ef5350"/><rect x="1596" y="381" width="5" height="11" fill="#ef5350"/>
<rect x="1605" y="340" width="1" height="52" fill="#26a69a"/><rect x="1603" y="352" width="5" height="40" fill="#26a69a"/>
<rect x="1612" y="336" width="1" height="17" fill="#26a69a"/><rect x="1610" y="343" width="5" height="10" fill="#26a69a"/>
<rect x="1619" y="339" width="1" height="9" fill="#ef5350"/><rect x="1617" y="339" width="5" height="9" fill="#ef5350"/>
<rect x="1626" y="343" width="1" height="31" fill="#ef5350"/><rect x="1624" y="347" width="5" height="27" fill="#ef5350"/>
<rect x="1633" y="371" width="1" height="23" fill="#ef5350"/><rect x="1631" y="373" width="5" height="12" fill="#ef5350"/>
<rect x="1640" y="366" width="1" height="19" fill="#26a69a"/><rect x="1638" y="366" width="5" height="19" fill="#26a69a"/>
<rect x="1647" y="286" width="1" height="82" fill="#26a69a"/><rect x="1645" y="286" width="5" height="82" fill="#26a69a"/>
<rect x="1654" y="256" width="1" height="60" fill="#26a69a"/><rect x="1652" y="272" width="5" height="15" fill="#26a69a"/>
<rect x="1661" y="223" width="1" height="73" fill="#26a69a"/><rect x="1659" y="239" width="5" height="32" fill="#26a69a"/>
<rect x="1669" y="227" width="1" height="52" fill="#ef5350"/><rect x="1667" y="235" width="5" height="43" fill="#ef5350"/>
<rect x="1676" y="266" width="1" height="32" fill="#ef5350"/><rect x="1674" y="277" width="5" height="16" fill="#ef5350"/>
<rect x="1683" y="286" width="1" height="16" fill="#26a69a"/><rect x="1681" y="291" width="5" height="2" fill="#26a69a"/>
<rect x="1690" y="106" width="1" height="185" fill="#26a69a"/><rect x="1688" y="194" width="5" height="97" fill="#26a69a"/>
<rect x="1697" y="154" width="1" height="86" fill="#26a69a"/><rect x="1695" y="163" width="5" height="30" fill="#26a69a"/>
</g>
<g font-size="12" fill="#585b68">
 <text x="1780" y="94.1" textLength="35.6" lengthAdjust="spacingAndGlyphs">88,600</text>
 <text x="1780" y="134.1" textLength="35.6" lengthAdjust="spacingAndGlyphs">88,400</text>
 <text x="1780" y="214.1" textLength="35.6" lengthAdjust="spacingAndGlyphs">88,000</text>
 <text x="1780" y="254.1" textLength="35.6" lengthAdjust="spacingAndGlyphs">87,800</text>
 <text x="1780" y="294.1" textLength="35.6" lengthAdjust="spacingAndGlyphs">87,600</text>
 <text x="1780" y="334.1" textLength="35.6" lengthAdjust="spacingAndGlyphs">87,400</text>
 <text x="1780" y="374.1" textLength="35.6" lengthAdjust="spacingAndGlyphs">87,200</text>
 <text x="1780" y="415.1" textLength="35.6" lengthAdjust="spacingAndGlyphs">87,000</text>
 <text x="1780" y="455.1" textLength="35.6" lengthAdjust="spacingAndGlyphs">86,800</text>
 <text x="1780" y="495.1" textLength="35.6" lengthAdjust="spacingAndGlyphs">86,600</text>
 <text x="1780" y="535.1" textLength="35.6" lengthAdjust="spacingAndGlyphs">86,400</text>
 <text x="1780" y="575.1" textLength="35.6" lengthAdjust="spacingAndGlyphs">86,200</text>
 <text x="1780" y="615.1" textLength="35.6" lengthAdjust="spacingAndGlyphs">86,000</text>
 <text x="1780" y="655.1" textLength="35.6" lengthAdjust="spacingAndGlyphs">85,800</text>
 <text x="1780" y="695.1" textLength="35.6" lengthAdjust="spacingAndGlyphs">85,600</text>
 <text x="1780" y="735.1" textLength="35.6" lengthAdjust="spacingAndGlyphs">85,400</text>
 <text x="1780" y="775.1" textLength="35.6" lengthAdjust="spacingAndGlyphs">85,200</text>
 <text x="1780" y="815.1" textLength="35.6" lengthAdjust="spacingAndGlyphs">85,000</text>
<text x="13.6" y="839" textLength="30.3" lengthAdjust="spacingAndGlyphs">20:00</text>
<text x="98.6" y="839" textLength="30.3" lengthAdjust="spacingAndGlyphs">21:00</text>
<text x="183.6" y="839" textLength="30.3" lengthAdjust="spacingAndGlyphs">22:00</text>
<text x="268.6" y="839" textLength="30.3" lengthAdjust="spacingAndGlyphs">23:00</text>
<text x="369.5" y="839" text-anchor="middle" textLength="13.2" lengthAdjust="spacingAndGlyphs">18</text>
<text x="439.6" y="839" textLength="30.3" lengthAdjust="spacingAndGlyphs">01:00</text>
<text x="524.6" y="839" textLength="30.3" lengthAdjust="spacingAndGlyphs">02:00</text>
<text x="609.6" y="839" textLength="30.3" lengthAdjust="spacingAndGlyphs">03:00</text>
<text x="694.6" y="839" textLength="30.3" lengthAdjust="spacingAndGlyphs">04:00</text>
<text x="779.6" y="839" textLength="30.3" lengthAdjust="spacingAndGlyphs">05:00</text>
<text x="865.6" y="839" textLength="30.3" lengthAdjust="spacingAndGlyphs">06:00</text>
<text x="950.6" y="839" textLength="30.3" lengthAdjust="spacingAndGlyphs">07:00</text>
<text x="1035.6" y="839" textLength="30.3" lengthAdjust="spacingAndGlyphs">08:00</text>
<text x="1120.6" y="839" textLength="30.3" lengthAdjust="spacingAndGlyphs">09:00</text>
<text x="1205.6" y="839" textLength="30.3" lengthAdjust="spacingAndGlyphs">10:00</text>
<text x="1291.6" y="839" textLength="30.3" lengthAdjust="spacingAndGlyphs">11:00</text>
<text x="1376.6" y="839" textLength="30.3" lengthAdjust="spacingAndGlyphs">12:00</text>
<text x="1461.6" y="839" textLength="30.3" lengthAdjust="spacingAndGlyphs">13:00</text>
<text x="1546.6" y="839" textLength="30.3" lengthAdjust="spacingAndGlyphs">14:00</text>
<text x="1631.6" y="839" textLength="30.3" lengthAdjust="spacingAndGlyphs">15:00</text>
<text x="1716.6" y="839" textLength="30.3" lengthAdjust="spacingAndGlyphs">16:00</text>
</g>
<rect x="1775" y="30.7" width="46" height="26.6" rx="4" fill="#0f0f0f" stroke="#363636" stroke-width="1"/>
<text x="1783.9" y="49" font-size="12" fill="#dbdbdb" stroke="#dbdbdb" stroke-width="0.25" textLength="21.5" lengthAdjust="spacingAndGlyphs">USD</text>
<path d="M1772 155h47a2 2 0 0 1 2 2v27a2 2 0 0 1-2 2h-47z" fill="#26a69a"/>
<text x="1780" y="167.2" font-size="12" font-weight="bold" fill="#fff" textLength="34.8" lengthAdjust="spacingAndGlyphs">88,241</text>
<text x="1780" y="181" font-size="12" fill="#fff" fill-opacity="0.88" textLength="30" lengthAdjust="spacingAndGlyphs">00:10</text>
<g>
<circle cx="1697.8" cy="808.4" r="11" fill="#0f0f0f"/>
<circle cx="1697.8" cy="808.4" r="9.8" fill="#0f0f0f" stroke="#bb44cc" stroke-width="1.3"/>
<path d="M1700 803.4L1693.9 808.7L1701.3 808.1L1694.8 813.7" fill="none" stroke="#bb44cc" stroke-width="1.5" stroke-linejoin="round" stroke-linecap="round"/>
<circle cx="1704.5" cy="801.6" r="3.9" fill="#0f0f0f"/><circle cx="1704.5" cy="801.6" r="2.7" fill="#f23645"/>
<path d="M1686.7 806.4Q1688.1000000000001 810.6 1692.3 812.0Q1688.1000000000001 813.4 1686.7 817.6Q1685.3 813.4 1681.1000000000001 812.0Q1685.3 810.6 1686.7 806.4Z" fill="#7c4dff" stroke="#0f0f0f" stroke-width="1.6" paint-order="stroke"/>
</g>
<g fill="#131313">
<path d="M12 871.1h11.8v14.7h-5.8v-9h-6z"/><circle cx="28.9" cy="873.8" r="3"/><path d="M32.7 871.1h9l-5.7 14.7h-7.1z"/>
</g>
<text x="48.8" y="885.8" font-size="20.2" font-weight="bold" fill="#131313" textLength="120.6" lengthAdjust="spacingAndGlyphs">TradingView</text>
</svg></body></html>
